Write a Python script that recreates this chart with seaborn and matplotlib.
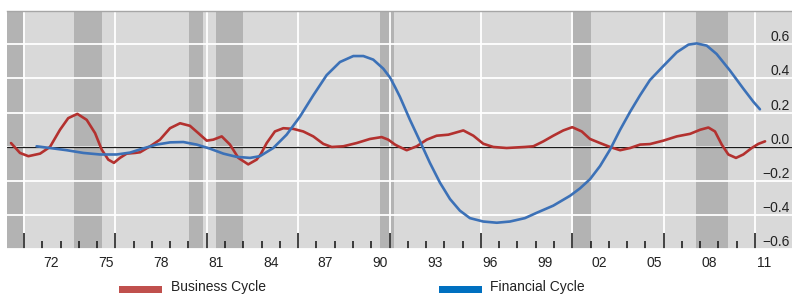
import matplotlib
matplotlib.use("Agg")
import matplotlib.pyplot as plt
from matplotlib.patches import Rectangle
import numpy as np
import pandas as pd
import seaborn as sns

# ---------------- data ----------------
bc_years = [1970.29, 1970.78, 1971.24, 1971.88, 1972.42, 1972.97, 1973.42, 1973.92, 1974.43, 1974.89,
            1975.25, 1975.61, 1975.92, 1976.25, 1976.62, 1977.07, 1977.35, 1977.90, 1978.44, 1978.99,
            1979.54, 1980.08, 1980.54, 1981.00, 1981.36, 1981.82, 1982.27, 1982.73, 1983.27, 1983.73,
            1983.95, 1984.28, 1984.73, 1985.19, 1985.74, 1986.28, 1986.83, 1987.38, 1987.84, 1988.47,
            1989.20, 1989.93, 1990.57, 1990.93, 1991.30, 1991.48, 1991.94, 1992.49, 1993.04, 1993.58,
            1994.22, 1995.04, 1995.59, 1996.13, 1996.68, 1997.41, 1998.41, 1998.87, 1999.42, 1999.96,
            2000.51, 2001.00, 2001.52, 2001.97, 2002.52, 2003.07, 2003.62, 2004.17, 2004.71, 2005.25,
            2005.98, 2006.72, 2007.45, 2008.00, 2008.45, 2008.81, 2009.18, 2009.54, 2009.96, 2010.36,
            2010.82, 2011.18, 2011.55]
bc_values = [0.021, -0.037, -0.056, -0.041, -0.002, 0.099, 0.167, 0.192, 0.157, 0.079,
             -0.017, -0.076, -0.095, -0.066, -0.041, -0.037, -0.033, 0.002, 0.041, 0.108,
             0.137, 0.122, 0.079, 0.035, 0.041, 0.060, 0.012, -0.066, -0.104, -0.076,
             -0.045, 0.021, 0.089, 0.108, 0.104, 0.089, 0.060, 0.016, -0.002, 0.002,
             0.021, 0.045, 0.056, 0.041, 0.012, 0.002, -0.021, 0.002, 0.041, 0.064,
             0.070, 0.095, 0.064, 0.017, -0.002, -0.008, -0.002, 0.002, 0.031, 0.064,
             0.095, 0.114, 0.089, 0.045, 0.021, -0.002, -0.021, -0.008, 0.012, 0.015,
             0.035, 0.060, 0.075, 0.099, 0.112, 0.089, 0.012, -0.046, -0.066, -0.046,
             -0.008, 0.016, 0.031]

fc_years = [1971.69, 1972.42, 1973.34, 1974.25, 1975.16, 1976.07, 1976.80, 1977.53, 1978.26, 1978.99,
            1979.72, 1980.45, 1981.18, 1981.91, 1982.64, 1983.37, 1983.91, 1984.64, 1985.37, 1986.10,
            1986.83, 1987.56, 1988.29, 1989.02, 1989.57, 1990.11, 1990.66, 1991.03, 1991.30, 1991.57,
            1992.12, 1992.67, 1993.21, 1993.76, 1994.31, 1994.85, 1995.40, 1996.13, 1996.87, 1997.59,
            1998.41, 1999.05, 1999.96, 2000.88, 2001.42, 2001.97, 2002.52, 2003.07, 2003.62, 2004.17,
            2004.71, 2005.25, 2005.98, 2006.72, 2007.36, 2007.81, 2008.36, 2008.90, 2009.63, 2010.36,
            2010.91, 2011.27]
fc_values = [0.002, -0.008, -0.021, -0.037, -0.046, -0.046, -0.035, -0.010, 0.012, 0.025,
             0.027, 0.012, -0.012, -0.041, -0.060, -0.066, -0.056, -0.008, 0.070, 0.176,
             0.301, 0.419, 0.496, 0.531, 0.531, 0.510, 0.457, 0.405, 0.350, 0.292,
             0.157, 0.031, -0.095, -0.211, -0.307, -0.375, -0.419, -0.439, -0.446, -0.439,
             -0.419, -0.388, -0.346, -0.288, -0.245, -0.191, -0.114, -0.017, 0.099, 0.205,
             0.301, 0.390, 0.472, 0.553, 0.598, 0.605, 0.592, 0.543, 0.446, 0.340,
             0.263, 0.219]

recession_start = [1969.90, 1973.75, 1980.05, 1981.50, 1990.48, 2001.05, 2007.77]
recession_end = [1970.96, 1975.25, 1980.78, 1983.00, 1991.25, 2002.00, 2009.50]

x_label_years = [1972.5, 1975.5, 1978.5, 1981.5, 1984.5, 1987.5, 1990.5, 1993.5, 1996.5,
                 1999.5, 2002.5, 2005.5, 2008.5, 2011.5]
x_labels = ["72", "75", "78", "81", "84", "87", "90", "93", "96", "99", "02", "05", "08", "11"]
y_ticks = [-0.6, -0.4, -0.2, 0.0, 0.2, 0.4, 0.6]
y_labels = ["\u22120.6", "\u22120.4", "\u22120.2", "0.0", "0.2", "0.4", "0.6"]
series_names = ["Business Cycle", "Financial Cycle"]

# ---------------- style ----------------
sns.set_style("white")
plt.rcParams["font.family"] = ["Liberation Sans", "DejaVu Sans"]

RED = "#b3312f"
BLUE = "#3c71b7"

W, H = 792, 295
fig = plt.figure(figsize=(W / 100, H / 100), dpi=100)
left_px, top_px, bottom_px = 7.3, 11, 249
ax = fig.add_axes([left_px / W, 1 - bottom_px / H, 1 - left_px / W, (bottom_px - top_px) / H])
ax.set_facecolor("#d9d9d9")

px_per_year = (755 - 24) / 40.0
ax.set_xlim(1971 - (24 - left_px) / px_per_year, 1971 + (W - 24) / px_per_year)
ax.set_ylim(-0.595, 0.795)

for s, e in zip(recession_start, recession_end):
    ax.axvspan(s, e, color="#b3b3b3", lw=0, zorder=0.5)

ax.set_axisbelow("line")
ax.set_xticks(np.arange(1971, 2012, 5))
ax.set_xticks(np.arange(1971, 2012, 1), minor=True)
ax.set_yticks(y_ticks)
ax.grid(axis="x", which="major", color="white", lw=1.3)
ax.grid(axis="y", which="major", color="white", lw=1.3)
ax.axhline(0, color="#1a1a1a", lw=0.9, zorder=1.8)

df_bc = pd.DataFrame({"year": bc_years, "value": bc_values})
df_fc = pd.DataFrame({"year": fc_years, "value": fc_values})
sns.lineplot(data=df_bc, x="year", y="value", color=RED, lw=1.9, ax=ax, zorder=3, legend=False,
             solid_joinstyle="round", solid_capstyle="round")
sns.lineplot(data=df_fc, x="year", y="value", color=BLUE, lw=1.9, ax=ax, zorder=3, legend=False,
             solid_joinstyle="round", solid_capstyle="round")
ax.set_xlabel("")
ax.set_ylabel("")

# x ticks (inward) with labels centred on years
ax.tick_params(axis="x", which="major", direction="in", length=11.5, width=1.1,
               color="#111111", labelbottom=False, bottom=True)
ax.tick_params(axis="x", which="minor", direction="in", length=5.8, width=1.1,
               color="#111111", labelbottom=False, bottom=True)
sec = ax.secondary_xaxis("bottom")
sec.set_xticks(x_label_years, labels=x_labels)
sec.tick_params(length=0, pad=5.0, labelsize=10, labelcolor="#222222")
sec.spines["bottom"].set_visible(False)

# y labels on the right, inside the plot area
ax.yaxis.tick_right()
ax.set_yticklabels(y_labels)
ax.tick_params(axis="y", length=0, pad=-1.5, labelsize=10, labelcolor="#222222")
for lab in ax.get_yticklabels():
    lab.set_ha("right")
    lab.set_va("bottom")

for side in ["left", "right", "bottom"]:
    ax.spines[side].set_visible(False)
ax.spines["top"].set_color("#a6a6a6")
ax.spines["top"].set_linewidth(1.0)

# legend
leg_y = 1 - 291 / H
fig.add_artist(Rectangle((119 / W, 1 - 293 / H), 43 / W, 7 / H, transform=fig.transFigure,
                         color="#c0504d", lw=0))
fig.text(171 / W, leg_y, series_names[0], fontsize=10, va="baseline", color="#222222")
fig.add_artist(Rectangle((439 / W, 1 - 293 / H), 43 / W, 7 / H, transform=fig.transFigure,
                         color="#0070c0", lw=0))
fig.text(490 / W, leg_y, series_names[1], fontsize=10, va="baseline", color="#222222")

fig.savefig("out.png", dpi=100)
